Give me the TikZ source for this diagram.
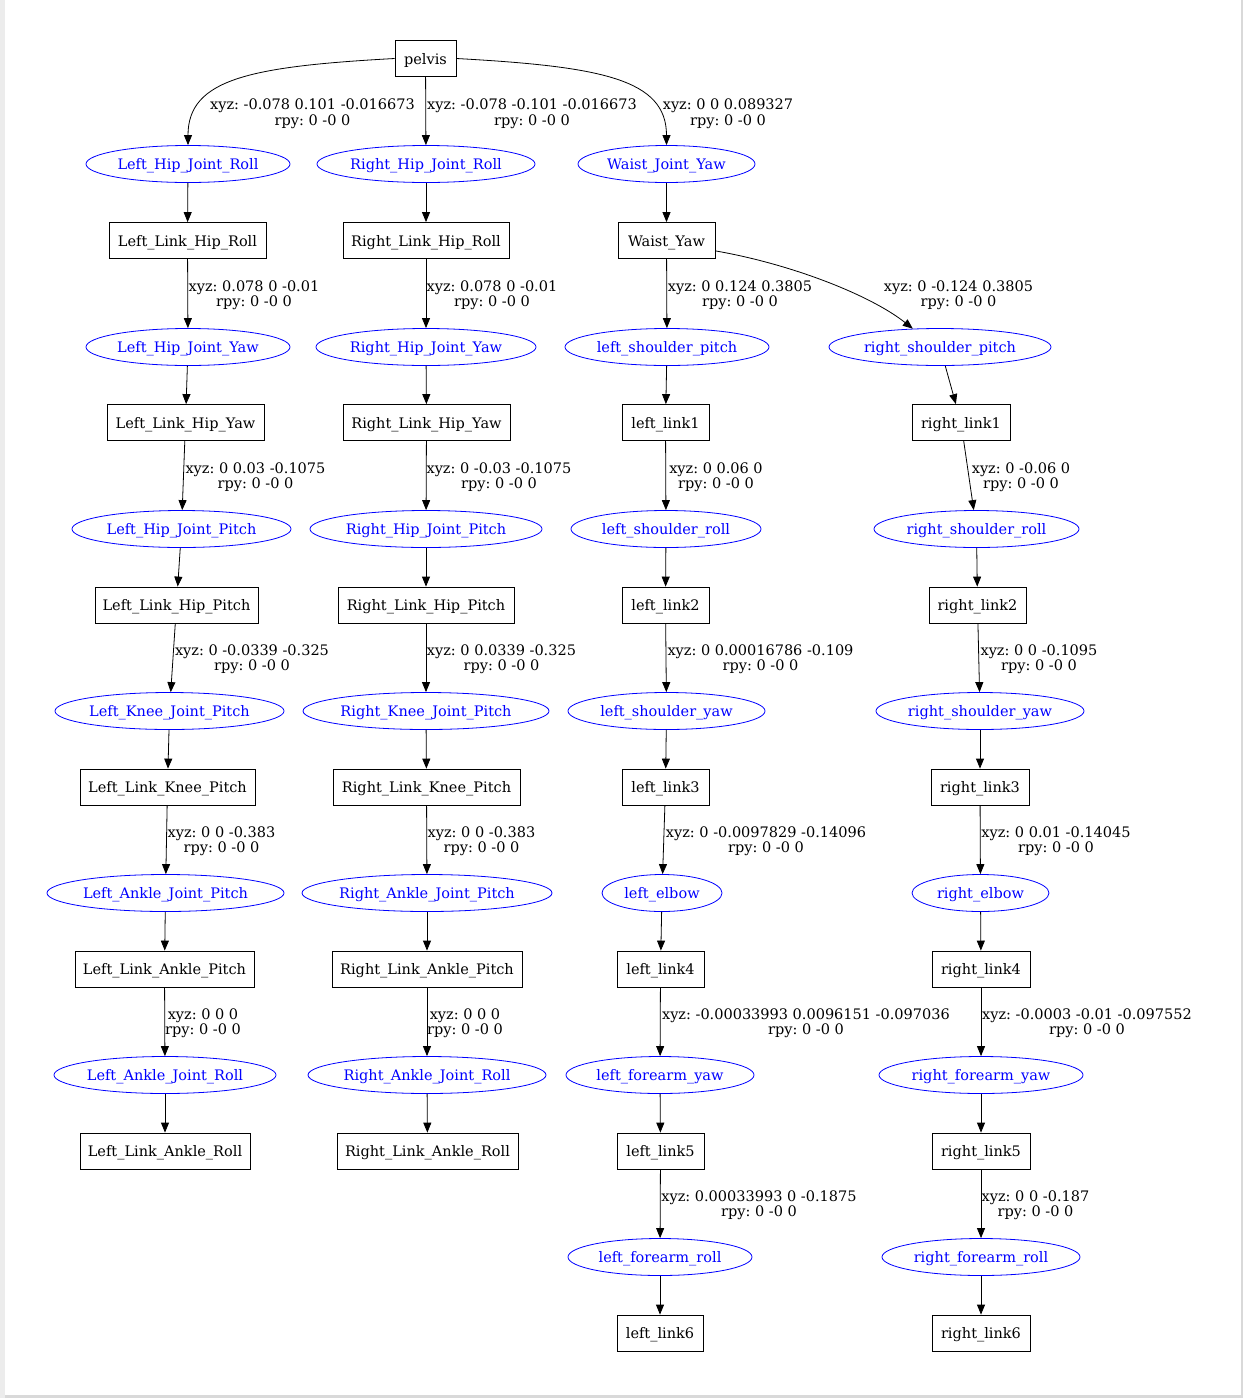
\documentclass[tikz,border=0pt]{standalone}
\usepackage{fontspec}
\setmainfont{DejaVu Serif}
\usetikzlibrary{shapes.geometric,arrows.meta}
\frenchspacing
\tikzset{
  link/.style={draw=black, rectangle, line width=0.8pt, minimum height=36pt, inner sep=0pt, text height=13pt, text depth=1.5pt, font=\fontsize{14.5}{16}\selectfont},
  joint/.style={draw=blue, ellipse, line width=0.8pt, text=blue, minimum height=37pt, inner sep=0pt, text height=13pt, text depth=1.5pt, font=\fontsize{14.5}{16}\selectfont},
  edge/.style={-{Triangle[length=10pt,width=8pt]}, line width=0.8pt},
  lab/.style={align=center, inner sep=0pt, font=\fontsize{14.5}{15.5}\selectfont}
}
\begin{document}
\begin{tikzpicture}[x=1pt,y=-1pt]
% page
\fill[gray!30] (0,0) rectangle (1243,1398);
\fill[gray!15] (0,0) rectangle (5,1398);
\fill[white] (5,0) rectangle (1241,1395);
\useasboundingbox (0,0) rectangle (1243,1398);

% root
\node[link, minimum width=61pt] (pelvis) at (425.5,58.5) {pelvis};

% column 1
\node[joint, minimum width=204pt] (LHJR) at (188,164) {Left\_Hip\_Joint\_Roll};
\node[link, minimum width=157pt] (LLHR) at (187.5,240.5) {Left\_Link\_Hip\_Roll};
\node[joint, minimum width=204pt] (LHJY) at (188,347) {Left\_Hip\_Joint\_Yaw};
\node[link, minimum width=157pt] (LLHY) at (185.5,422.5) {Left\_Link\_Hip\_Yaw};
\node[joint, minimum width=219pt] (LHJP) at (181.5,529) {Left\_Hip\_Joint\_Pitch};
\node[link, minimum width=163pt] (LLHP) at (176.5,605) {Left\_Link\_Hip\_Pitch};
\node[joint, minimum width=229pt] (LKJP) at (169.5,711) {Left\_Knee\_Joint\_Pitch};
\node[link, minimum width=175pt] (LLKP) at (167.5,787) {Left\_Link\_Knee\_Pitch};
\node[joint, minimum width=237pt] (LAJP) at (165.5,893) {Left\_Ankle\_Joint\_Pitch};
\node[link, minimum width=179pt] (LLAP) at (164.5,969) {Left\_Link\_Ankle\_Pitch};
\node[joint, minimum width=222pt] (LAJR) at (165,1075) {Left\_Ankle\_Joint\_Roll};
\node[link, minimum width=170pt] (LLAR) at (165,1151) {Left\_Link\_Ankle\_Roll};

% column 2
\node[joint, minimum width=218pt] (RHJR) at (426,164) {Right\_Hip\_Joint\_Roll};
\node[link, minimum width=166pt] (RLHR) at (426,240.5) {Right\_Link\_Hip\_Roll};
\node[joint, minimum width=220pt] (RHJY) at (426,347) {Right\_Hip\_Joint\_Yaw};
\node[link, minimum width=167pt] (RLHY) at (426.5,422.5) {Right\_Link\_Hip\_Yaw};
\node[joint, minimum width=232pt] (RHJP) at (426,529) {Right\_Hip\_Joint\_Pitch};
\node[link, minimum width=176pt] (RLHP) at (426,605) {Right\_Link\_Hip\_Pitch};
\node[joint, minimum width=246pt] (RKJP) at (426,711) {Right\_Knee\_Joint\_Pitch};
\node[link, minimum width=187pt] (RLKP) at (426.5,787) {Right\_Link\_Knee\_Pitch};
\node[joint, minimum width=250pt] (RAJP) at (427,893) {Right\_Ankle\_Joint\_Pitch};
\node[link, minimum width=190pt] (RLAP) at (427,969) {Right\_Link\_Ankle\_Pitch};
\node[joint, minimum width=238pt] (RAJR) at (427,1075) {Right\_Ankle\_Joint\_Roll};
\node[link, minimum width=181pt] (RLAR) at (427.5,1151) {Right\_Link\_Ankle\_Roll};

% column 3
\node[joint, minimum width=177pt] (WJY) at (666.5,164) {Waist\_Joint\_Yaw};
\node[link, minimum width=97pt] (WY) at (666.5,240.5) {Waist\_Yaw};
\node[joint, minimum width=204pt] (lsp) at (667,347) {left\_shoulder\_pitch};
\node[link, minimum width=87pt] (ll1) at (665.5,422.5) {left\_link1};
\node[joint, minimum width=190pt] (lsr) at (666,529) {left\_shoulder\_roll};
\node[link, minimum width=87pt] (ll2) at (665.5,605) {left\_link2};
\node[joint, minimum width=197pt] (lsy) at (666.5,711) {left\_shoulder\_yaw};
\node[link, minimum width=87pt] (ll3) at (665.5,787) {left\_link3};
\node[joint, minimum width=120pt] (le) at (662,893) {left\_elbow};
\node[link, minimum width=87pt] (ll4) at (660.5,969) {left\_link4};
\node[joint, minimum width=188pt] (lfy) at (660,1075) {left\_forearm\_yaw};
\node[link, minimum width=87pt] (ll5) at (660.5,1151) {left\_link5};
\node[joint, minimum width=184pt] (lfr) at (660,1257) {left\_forearm\_roll};
\node[link, minimum width=86pt] (ll6) at (660,1333) {left\_link6};

% column 4
\node[joint, minimum width=222pt] (rsp) at (940,347) {right\_shoulder\_pitch};
\node[link, minimum width=98pt] (rl1) at (961,422.5) {right\_link1};
\node[joint, minimum width=205pt] (rsr) at (976.5,529) {right\_shoulder\_roll};
\node[link, minimum width=97pt] (rl2) at (977.5,605) {right\_link2};
\node[joint, minimum width=208pt] (rsy) at (980,711) {right\_shoulder\_yaw};
\node[link, minimum width=98pt] (rl3) at (980,787) {right\_link3};
\node[joint, minimum width=137pt] (re) at (980.5,893) {right\_elbow};
\node[link, minimum width=98pt] (rl4) at (981,969) {right\_link4};
\node[joint, minimum width=204pt] (rfy) at (981,1075) {right\_forearm\_yaw};
\node[link, minimum width=98pt] (rl5) at (981,1151) {right\_link5};
\node[joint, minimum width=198pt] (rfr) at (981,1257) {right\_forearm\_roll};
\node[link, minimum width=98pt] (rl6) at (981,1333) {right\_link6};

% edges from pelvis and Waist_Yaw (curved)
\draw[edge] (pelvis.west) .. controls +(-145,8) and +(0,-66) .. (LHJR.north);
\draw[edge] (pelvis) -- (RHJR);
\draw[edge] (pelvis.east) .. controls +(145,8) and +(0,-66) .. (WJY.north);
\draw[edge] (WY.-12) .. controls +(75,13) and +(-43,-34) .. (rsp.146);

% straight edges
\foreach \a/\b in {LHJR/LLHR, LLHR/LHJY, LHJY/LLHY, LLHY/LHJP, LHJP/LLHP, LLHP/LKJP, LKJP/LLKP, LLKP/LAJP, LAJP/LLAP, LLAP/LAJR, LAJR/LLAR,
  RHJR/RLHR, RLHR/RHJY, RHJY/RLHY, RLHY/RHJP, RHJP/RLHP, RLHP/RKJP, RKJP/RLKP, RLKP/RAJP, RAJP/RLAP, RLAP/RAJR, RAJR/RLAR,
  WJY/WY, WY/lsp, lsp/ll1, ll1/lsr, lsr/ll2, ll2/lsy, lsy/ll3, ll3/le, le/ll4, ll4/lfy, lfy/ll5, ll5/lfr, lfr/ll6,
  rsp/rl1, rl1/rsr, rsr/rl2, rl2/rsy, rsy/rl3, rl3/re, re/rl4, rl4/rfy, rfy/rl5, rl5/rfr, rfr/rl6}
  \draw[edge] (\a) -- (\b);

% labels
\node[lab] (t1) at (312.5,113.5) {xyz: -0.078 0.101 -0.016673\\rpy: 0 -0 0};
\node[lab] (t2) at (532,113.5) {xyz: -0.078 -0.101 -0.016673\\rpy: 0 -0 0};
\node[lab] (t3) at (728,113.5) {xyz: 0 0 0.089327\\rpy: 0 -0 0};
\node[lab] (t4) at (254,295) {xyz: 0.078 0 -0.01\\rpy: 0 -0 0};
\node[lab] (t5) at (492,295) {xyz: 0.078 0 -0.01\\rpy: 0 -0 0};
\node[lab] (t6) at (740,295) {xyz: 0 0.124 0.3805\\rpy: 0 -0 0};
\node[lab] (t7) at (958.5,295) {xyz: 0 -0.124 0.3805\\rpy: 0 -0 0};
\node[lab] (t8) at (255.5,477) {xyz: 0 0.03 -0.1075\\rpy: 0 -0 0};
\node[lab] (t9) at (499,477) {xyz: 0 -0.03 -0.1075\\rpy: 0 -0 0};
\node[lab] (t10) at (716,477) {xyz: 0 0.06 0\\rpy: 0 -0 0};
\node[lab] (t11) at (1021,477) {xyz: 0 -0.06 0\\rpy: 0 -0 0};
\node[lab] (t12) at (252,659) {xyz: 0 -0.0339 -0.325\\rpy: 0 -0 0};
\node[lab] (t13) at (501.5,659) {xyz: 0 0.0339 -0.325\\rpy: 0 -0 0};
\node[lab] (t14) at (760.5,659) {xyz: 0 0.00016786 -0.109\\rpy: 0 -0 0};
\node[lab] (t15) at (1039,659) {xyz: 0 0 -0.1095\\rpy: 0 -0 0};
\node[lab] (t16) at (221.5,841) {xyz: 0 0 -0.383\\rpy: 0 -0 0};
\node[lab] (t17) at (481.5,841) {xyz: 0 0 -0.383\\rpy: 0 -0 0};
\node[lab] (t18) at (766,841) {xyz: 0 -0.0097829 -0.14096\\rpy: 0 -0 0};
\node[lab] (t19) at (1056,841) {xyz: 0 0.01 -0.14045\\rpy: 0 -0 0};
\node[lab] (t20) at (203,1023) {xyz: 0 0 0\\rpy: 0 -0 0};
\node[lab] (t21) at (465,1023) {xyz: 0 0 0\\rpy: 0 -0 0};
\node[lab] (t22) at (806,1023) {xyz: -0.00033993 0.0096151 -0.097036\\rpy: 0 -0 0};
\node[lab] (t23) at (1087,1023) {xyz: -0.0003 -0.01 -0.097552\\rpy: 0 -0 0};
\node[lab] (t24) at (759,1205) {xyz: 0.00033993 0 -0.1875\\rpy: 0 -0 0};
\node[lab] (t25) at (1035.5,1205) {xyz: 0 0 -0.187\\rpy: 0 -0 0};
\end{tikzpicture}
\end{document}
